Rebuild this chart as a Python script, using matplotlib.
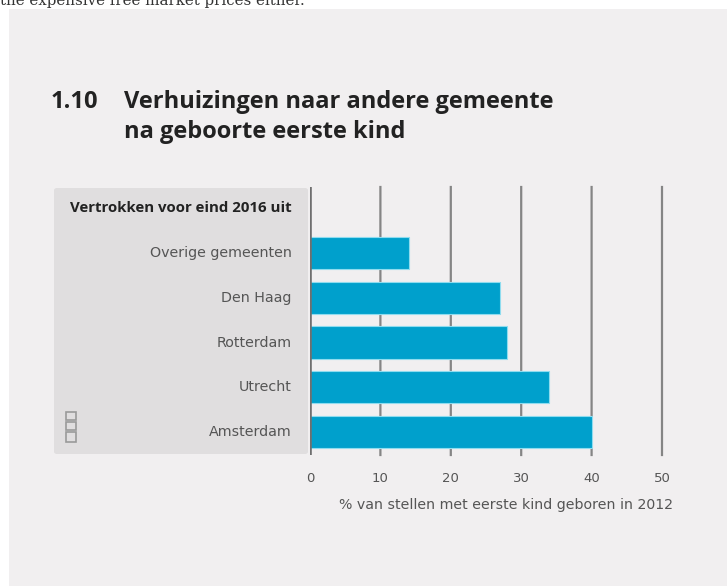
import matplotlib
matplotlib.use("Agg")
import matplotlib.pyplot as plt
from matplotlib.patches import FancyBboxPatch, Rectangle

# percentages of couples that moved after their first child (born 2012)
cities = ["Amsterdam", "Utrecht", "Rotterdam", "Den Haag", "Overige gemeenten"]
moved_pct = [40, 34, 28, 27, 14]
xticks = [0, 10, 20, 30, 40, 50]

BG = "#f1eff0"
PANEL = "#e0dedf"
BLUE = "#00a0cc"
GRID = "#858585"
TXT = "#555555"

W, H = 727, 586
fig = plt.figure(figsize=(W / 100, H / 100), dpi=100, facecolor="white")

def fx(px):
    return px / W

def fy(py):
    return 1 - py / H

# page background block
fig.patches.append(Rectangle((fx(9), 0), 1 - fx(9), fy(9), transform=fig.transFigure,
                             facecolor=BG, edgecolor="none", zorder=-2))
# clipped line of body text above the block
fig.text(fx(0), fy(5), "the expensive free market prices either.", family="DejaVu Serif",
         fontsize=10.8, color="#333333", va="baseline", ha="left", zorder=-1)

# grey label panel
fig.patches.append(FancyBboxPatch((fx(54), fy(454)), fx(308) - fx(54), fy(188) - fy(454),
                                  boxstyle="round,pad=0,rounding_size=0.004",
                                  transform=fig.transFigure, facecolor=PANEL,
                                  edgecolor="none", zorder=-1))

# title
tkw = dict(family="Open Sans", weight="bold", fontsize=17, color="#222222")
fig.text(fx(51), fy(108), "1.10", **tkw)
fig.text(fx(124), fy(108), "Verhuizingen naar andere gemeente", **tkw)
fig.text(fx(124), fy(138), "na geboorte eerste kind", **tkw)

ax = fig.add_axes([fx(310), fy(455), fx(662) - fx(310), fy(187) - fy(455)])
ax.set_zorder(2)
ax.patch.set_alpha(0)
ypos = list(range(len(cities)))
ax.barh(ypos, moved_pct, height=0.72, color=BLUE, edgecolor="#8fdcef", linewidth=0.8, zorder=3)
ax.set_xlim(0, 50)
ax.set_ylim(-0.51, 5.47)

for t in xticks[1:]:
    ax.axvline(t, color=GRID, lw=1.6, zorder=1, clip_on=False, snap=False)
ax.axvline(0, color="#6f6f6f", lw=2.6, zorder=4)

for s in ax.spines.values():
    s.set_visible(False)
ax.set_yticks([])
ax.set_xticks(xticks)
ax.tick_params(axis="x", length=0, pad=12, labelsize=9.5, labelcolor=TXT)

# category labels inside the grey panel
for y, name in zip(ypos, cities):
    ax.text(-2.6, y, name, ha="right", va="center", fontsize=10.3, color=TXT,
            family="DejaVu Sans", clip_on=False)
ax.text(-2.6, 5, "Vertrokken voor eind 2016 uit", ha="right", va="center", fontsize=10.8,
        color="#222222", weight="bold", family="Open Sans", clip_on=False)

fig.text(fx(673), fy(509), "% van stellen met eerste kind geboren in 2012", ha="right",
         fontsize=10.2, color=TXT)

# small cbs mark in the panel corner
for (x0, y0, w, h) in [(66, 412, 10, 8), (66, 422, 10, 8), (66, 432, 10, 10)]:
    fig.patches.append(Rectangle((fx(x0), fy(y0 + h)), fx(w), h / H, transform=fig.transFigure,
                                 facecolor="none", edgecolor="#9a9a9a", lw=1.2, zorder=0))

fig.savefig("out.png", dpi=100, facecolor="white")
